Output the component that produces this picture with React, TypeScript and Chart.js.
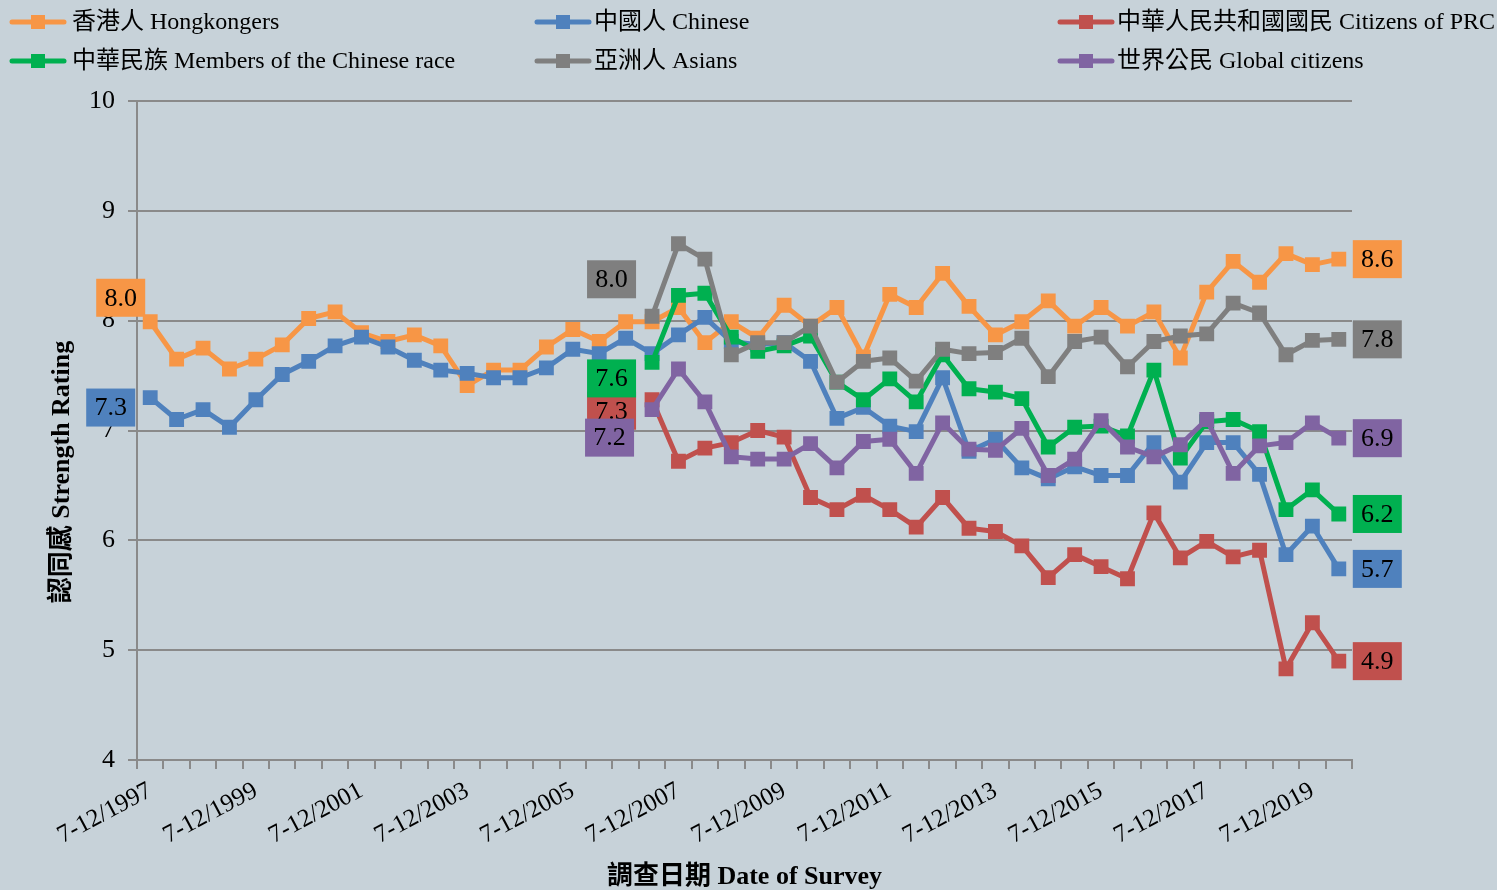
import React, { useEffect, useRef } from "react";
import { Chart, registerables } from "chart.js";

Chart.register(...registerables);

const FONT = '"Liberation Serif", "Times New Roman", "Noto Sans CJK TC", serif';

const categories = [
  "7-12/1997", "1-6/1998", "7-12/1998", "1-6/1999", "7-12/1999", "1-6/2000",
  "7-12/2000", "1-6/2001", "7-12/2001", "1-6/2002", "7-12/2002", "1-6/2003",
  "7-12/2003", "1-6/2004", "7-12/2004", "1-6/2005", "7-12/2005", "1-6/2006",
  "7-12/2006", "1-6/2007", "7-12/2007", "1-6/2008", "7-12/2008", "1-6/2009",
  "7-12/2009", "1-6/2010", "7-12/2010", "1-6/2011", "7-12/2011", "1-6/2012",
  "7-12/2012", "1-6/2013", "7-12/2013", "1-6/2014", "7-12/2014", "1-6/2015",
  "7-12/2015", "1-6/2016", "7-12/2016", "1-6/2017", "7-12/2017", "1-6/2018",
  "7-12/2018", "1-6/2019", "7-12/2019", "1-6/2020",
];

const hongkongers = [
  7.99, 7.65, 7.75, 7.56, 7.65, 7.78, 8.02, 8.08, 7.89, 7.81, 7.87, 7.77,
  7.41, 7.55, 7.55, 7.76, 7.92, 7.81, 7.99, 7.99, 8.12, 7.8, 7.99, 7.84,
  8.14, 7.95, 8.12, 7.67, 8.24, 8.12, 8.43, 8.13, 7.87, 7.99, 8.18, 7.95,
  8.12, 7.95, 8.08, 7.66, 8.26, 8.54, 8.35, 8.61, 8.51, 8.56,
];

const chinese = [
  7.3, 7.1, 7.19, 7.03, 7.28, 7.51, 7.63, 7.77, 7.85, 7.76, 7.64, 7.55,
  7.52, 7.48, 7.48, 7.57, 7.74, 7.7, 7.84, 7.7, 7.87, 8.03, 7.81, 7.78,
  7.8, 7.63, 7.11, 7.21, 7.04, 6.99, 7.48, 6.81, 6.92, 6.66, 6.56, 6.67,
  6.59, 6.59, 6.89, 6.53, 6.89, 6.89, 6.6, 5.87, 6.13, 5.74,
];

// these four series start at 1-6/2007
const notAsked = Array(19).fill(null);

const citizensPRC = [
  7.28, 6.72, 6.84, 6.89, 7.0, 6.94, 6.39, 6.28, 6.41, 6.28, 6.12, 6.39,
  6.11, 6.08, 5.95, 5.66, 5.87, 5.76, 5.65, 6.25, 5.84, 5.99, 5.85, 5.91,
  4.83, 5.25, 4.9,
];

const chineseRace = [
  7.62, 8.23, 8.25, 7.85, 7.72, 7.77, 7.86, 7.44, 7.28, 7.47, 7.26, 7.69,
  7.38, 7.35, 7.29, 6.85, 7.03, 7.04, 6.95, 7.55, 6.75, 7.08, 7.1, 6.99,
  6.28, 6.46, 6.24,
];

const asians = [
  8.04, 8.7, 8.56, 7.69, 7.8, 7.8, 7.95, 7.44, 7.63, 7.66, 7.45, 7.74,
  7.7, 7.71, 7.84, 7.49, 7.81, 7.85, 7.58, 7.81, 7.86, 7.88, 8.16, 8.07,
  7.69, 7.82, 7.83,
];

const globalCitizens = [
  7.19, 7.56, 7.26, 6.76, 6.74, 6.74, 6.88, 6.66, 6.9, 6.92, 6.61, 7.07,
  6.83, 6.82, 7.02, 6.59, 6.74, 7.09, 6.85, 6.76, 6.87, 7.1, 6.61, 6.86,
  6.89, 7.07, 6.93,
];

const seriesNames = [
  "香港人 Hongkongers",
  "中國人 Chinese",
  "中華人民共和國國民 Citizens of PRC",
  "中華民族 Members of the Chinese race",
  "亞洲人 Asians",
  "世界公民 Global citizens",
];

const seriesData = [
  hongkongers,
  chinese,
  [...notAsked, ...citizensPRC],
  [...notAsked, ...chineseRace],
  [...notAsked, ...asians],
  [...notAsked, ...globalCitizens],
];

const seriesColors = ["#F79646", "#4F81BD", "#C0504D", "#00B050", "#7F7F7F", "#8064A2"];

const yMin = 4;
const yMax = 10;
const yStep = 1;

const xTitle = "調查日期 Date of Survey";
const yTitle = "認同感 Strength Rating";

// styling / placement (not data)
const BG = "#C7D2D9";
const GRID = "#8A8A8A";
const BOX_W = 49;
const BOX_H = 38;
const startLabelOffsets = [
  { gap: 5, dy: -24 },
  { gap: 15, dy: 10 },
  { gap: 16, dy: 11 },
  { gap: 16, dy: 16 },
  { gap: 16, dy: -37 },
  { gap: 18, dy: 28 },
];
const legendLineStart = [10, 535, 1058];
const legendTextStart = [72, 594, 1117];
const legendRows = [22, 61];

function drawBox(ctx: CanvasRenderingContext2D, x: number, y: number, color: string, text: string) {
  ctx.save();
  ctx.fillStyle = color;
  ctx.fillRect(x, y, BOX_W, BOX_H);
  ctx.fillStyle = "#000";
  ctx.font = `26px ${FONT}`;
  ctx.textAlign = "center";
  ctx.textBaseline = "middle";
  ctx.fillText(text, x + BOX_W / 2, y + BOX_H / 2 + 1);
  ctx.restore();
}

const overlayPlugin = {
  id: "overlay",
  beforeDraw(chart: any) {
    const ctx = chart.ctx;
    ctx.save();
    ctx.fillStyle = BG;
    ctx.fillRect(0, 0, chart.width, chart.height);
    ctx.restore();
  },
  afterDatasetsDraw(chart: any) {
    const ctx = chart.ctx as CanvasRenderingContext2D;
    chart.data.datasets.forEach((ds: any, i: number) => {
      const meta = chart.getDatasetMeta(i);
      const data = ds.data as (number | null)[];
      const first = data.findIndex((v) => v != null);
      const last = data.length - 1;
      const p0 = meta.data[first];
      const p1 = meta.data[last];
      const o = startLabelOffsets[i];
      drawBox(ctx, p0.x - o.gap - BOX_W, p0.y + o.dy - BOX_H / 2, seriesColors[i], (data[first] as number).toFixed(1));
      drawBox(ctx, p1.x + 14, p1.y - BOX_H / 2, seriesColors[i], (data[last] as number).toFixed(1));
    });
  },
  afterDraw(chart: any) {
    const ctx = chart.ctx as CanvasRenderingContext2D;
    const area = chart.chartArea;
    ctx.save();
    // legend
    seriesNames.forEach((name, i) => {
      const col = i % 3;
      const x0 = legendLineStart[col];
      const y = legendRows[Math.floor(i / 3)];
      ctx.strokeStyle = seriesColors[i];
      ctx.lineWidth = 5;
      ctx.lineCap = "round";
      ctx.beginPath();
      ctx.moveTo(x0 + 2, y);
      ctx.lineTo(x0 + 54, y);
      ctx.stroke();
      ctx.fillStyle = seriesColors[i];
      ctx.fillRect(x0 + 28 - 7, y - 7, 14, 14);
      ctx.fillStyle = "#000";
      ctx.font = `24px ${FONT}`;
      ctx.textAlign = "left";
      ctx.textBaseline = "middle";
      ctx.fillText(name, legendTextStart[col], y + 1);
    });
    // axis titles
    ctx.fillStyle = "#000";
    ctx.font = `bold 26px ${FONT}`;
    ctx.textAlign = "center";
    ctx.textBaseline = "middle";
    ctx.fillText(xTitle, (area.left + area.right) / 2, 877);
    ctx.translate(62, 472);
    ctx.rotate(-Math.PI / 2);
    ctx.fillText(yTitle, 0, 0);
    ctx.restore();
  },
};

export default function App() {
  const ref = useRef<HTMLCanvasElement | null>(null);

  useEffect(() => {
    if (!ref.current) return;
    const n = seriesData.length;
    const chart = new Chart(ref.current, {
      type: "line",
      data: {
        labels: categories,
        datasets: seriesData.map((d, i) => ({
          label: seriesNames[i],
          data: d,
          borderColor: seriesColors[i],
          backgroundColor: seriesColors[i],
          borderWidth: 5,
          borderJoinStyle: "round" as const,
          pointStyle: "rect" as const,
          pointRadius: 10.5,
          pointBorderWidth: 0,
          pointBackgroundColor: seriesColors[i],
          tension: 0,
          fill: false,
          order: n - i,
        })),
      },
      options: {
        responsive: false,
        animation: false,
        devicePixelRatio: 1,
        layout: { padding: { top: 101, right: 145, left: 0, bottom: 0 } },
        plugins: {
          legend: { display: false },
          tooltip: { enabled: false },
          title: { display: false },
        },
        scales: {
          x: {
            type: "category",
            offset: true,
            afterFit: (s: any) => {
              s.height = 130;
            },
            grid: {
              offset: true,
              drawOnChartArea: false,
              drawTicks: true,
              tickLength: 9,
              color: GRID,
              lineWidth: 2,
            },
            border: { display: true, color: GRID, width: 2 },
            ticks: {
              autoSkip: false,
              minRotation: 28,
              maxRotation: 28,
              padding: 7,
              color: "#000",
              font: { family: FONT, size: 25 },
              callback: (_v: any, idx: number) => (idx % 4 === 0 ? categories[idx] : ""),
            },
          },
          y: {
            min: yMin,
            max: yMax,
            afterFit: (s: any) => {
              s.width = 137;
            },
            grid: {
              color: GRID,
              lineWidth: 2,
              drawTicks: true,
              tickLength: 9,
            },
            border: { display: true, color: GRID, width: 2 },
            ticks: {
              stepSize: yStep,
              padding: 13,
              color: "#000",
              font: { family: FONT, size: 26 },
            },
          },
        },
      },
      plugins: [overlayPlugin],
    });
    return () => chart.destroy();
  }, []);

  return (
    <div style={{ position: "fixed", left: 0, top: 0, width: 1497, height: 890, background: BG }}>
      <canvas ref={ref} width={1497} height={890} style={{ display: "block" }} />
    </div>
  );
}
